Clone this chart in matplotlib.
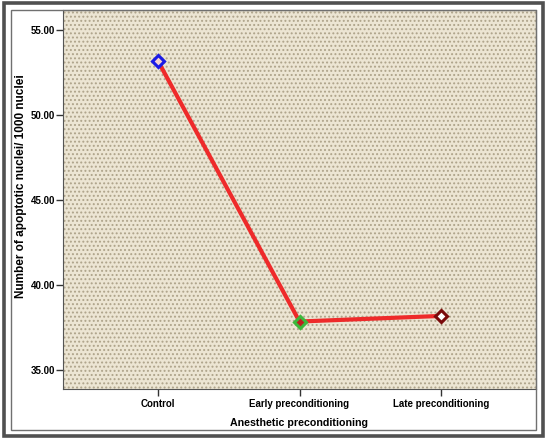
import matplotlib
matplotlib.use('Agg')
import matplotlib.pyplot as plt
from matplotlib.patches import Rectangle

# data
groups = ['Control', 'Early preconditioning', 'Late preconditioning']
apoptotic = [53.18, 37.85, 38.18]
marker_edges = ['#1a1ae6', '#3cb83c', '#7a0a0a']
marker_faces = ['#f4d0d0', '#c02020', '#ffffff']
yticks = [35, 40, 45, 50, 55]

W, H = 550, 444
fig = plt.figure(figsize=(W/100, H/100), dpi=100)
plt.rcParams['font.family'] = ['Liberation Sans', 'DejaVu Sans']
plt.rcParams['hatch.linewidth'] = 0.9

# frames around the chart
fig.patches.append(Rectangle((3.5/W, 1-436/H), 539/W, 432.5/H, transform=fig.transFigure,
                             fill=False, edgecolor='#505050', linewidth=2.6))
fig.patches.append(Rectangle((11/W, 1-430/H), 525/W, 420/H, transform=fig.transFigure,
                             fill=False, edgecolor='#707070', linewidth=1.0))

ax = fig.add_axes([63/W, 1-389/H, (536-63)/W, (389-10)/H])
ax.set_facecolor('#ece5d3')
ax.add_patch(Rectangle((0, 0), 1, 1, transform=ax.transAxes, facecolor='none',
                       edgecolor='#aea38a', hatch='....', linewidth=0, zorder=0))

x = list(range(len(groups)))
ax.plot(x, apoptotic, color='#ee2a2a', linewidth=3, zorder=2)
for xi, yi, ec, fc in zip(x, apoptotic, marker_edges, marker_faces):
    ax.plot(xi, yi, marker='D', markersize=6.5, markeredgewidth=2.2,
            markeredgecolor=ec, markerfacecolor=fc, zorder=3)

ax.set_xlim(-0.671, 2.671)
ax.set_ylim(33.88, 56.18)
ax.set_xticks(x)
ax.set_xticklabels(groups)
ax.set_yticks(yticks)
ax.set_yticklabels(['%.2f' % v for v in yticks])
for lab in ax.get_xticklabels() + ax.get_yticklabels():
    lab.set_fontweight('bold')
    lab.set_fontsize(7)
ax.tick_params(direction='out', length=5, width=1, color='#333333')
ax.tick_params(axis='x', pad=2)
ax.tick_params(axis='y', pad=0.5)
for s in ax.spines.values():
    s.set_color('#555555')
    s.set_linewidth(0.8)
ax.set_xlabel('Anesthetic preconditioning', fontsize=7.7, fontweight='bold')
ax.xaxis.set_label_coords(0.5, -(418-389)/379)
ax.set_ylabel('Number of apoptotic nuclei/ 1000 nuclei', fontsize=8.5, fontweight='bold')
ax.yaxis.set_label_coords(-(63-27)/473, (389-186)/379)

fig.savefig('out.png', dpi=100)
